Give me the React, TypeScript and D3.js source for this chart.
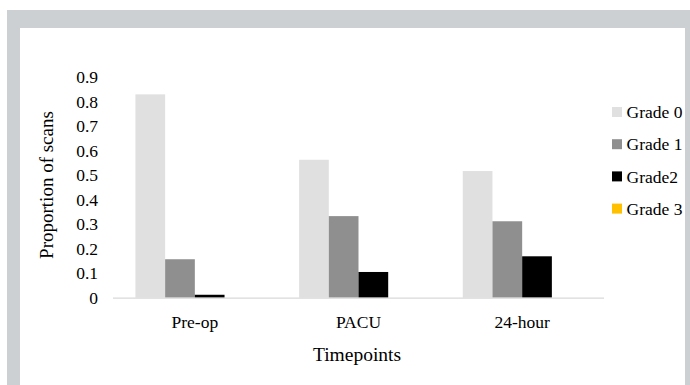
import React from "react";
import * as d3 from "d3";

const categories = ["Pre-op", "PACU", "24-hour"];
const seriesNames = ["Grade 0", "Grade 1", "Grade2", "Grade 3"];
const grade0 = [0.83, 0.563, 0.517];
const grade1 = [0.157, 0.333, 0.312];
const grade2 = [0.012, 0.105, 0.169];
const grade3 = [0, 0, 0];
const seriesColors = ["#e0e0e0", "#8f8f8f", "#000000", "#ffc000"];
const yTicks = [0, 0.1, 0.2, 0.3, 0.4, 0.5, 0.6, 0.7, 0.8, 0.9];

const W = 690;
const H = 385;
const FONT = "'Liberation Serif', 'Times New Roman', serif";

export default function App() {
  const seriesValues = [grade0, grade1, grade2, grade3];
  const x0 = d3.scaleBand<string>().domain(categories).range([113, 604]).paddingInner(0).paddingOuter(0);
  const groupPad = (x0.bandwidth() - 4 * 29.7) / 2;
  const x1 = d3
    .scaleBand<string>()
    .domain(seriesNames)
    .range([groupPad, x0.bandwidth() - groupPad])
    .padding(0);
  const y = d3.scaleLinear().domain([0, 0.9]).range([297.7, 297.7 - 9 * 24.5]);

  return (
    <div style={{ position: "fixed", left: 0, top: 0 }}>
      <svg width={W} height={H} style={{ display: "block" }}>
        <rect x={0} y={0} width={W} height={H} fill="#ffffff" />
        <rect x={7} y={10} width={W - 7} height={H - 10} fill="#cdd0d3" />
        <rect x={20} y={28} width={665} height={H - 28} fill="#ffffff" />

        {/* bars */}
        {categories.map((c, ci) => (
          <g key={c} transform={`translate(${x0(c)},0)`}>
            {seriesNames.map((s, si) => {
              const v = seriesValues[si][ci];
              const yv = y(v);
              return (
                <rect
                  key={s}
                  x={x1(s)}
                  y={yv}
                  width={x1.bandwidth()}
                  height={Math.max(0, y(0) - yv)}
                  fill={seriesColors[si]}
                />
              );
            })}
          </g>
        ))}

        {/* x axis line */}
        <line x1={113} x2={604} y1={y(0) + 0.5} y2={y(0) + 0.5} stroke="#d9d9d9" strokeWidth={1.3} />

        {/* y tick labels */}
        {yTicks.map((t) => (
          <text
            key={t}
            x={98}
            y={y(t)}
            dy="0.35em"
            textAnchor="end"
            fontFamily={FONT}
            fontSize={17.5}
            fill="#000"
          >
            {t === 0 ? "0" : d3.format(".1f")(t)}
          </text>
        ))}

        {/* x tick labels */}
        {categories.map((c) => (
          <text
            key={c}
            x={(x0(c) as number) + x0.bandwidth() / 2}
            y={322}
            dy="0.35em"
            textAnchor="middle"
            fontFamily={FONT}
            fontSize={17.5}
            fill="#000"
          >
            {c}
          </text>
        ))}

        {/* axis titles */}
        <text
          x={357}
          y={354}
          dy="0.35em"
          textAnchor="middle"
          fontFamily={FONT}
          fontSize={19.5}
          fill="#000"
        >
          Timepoints
        </text>
        <text
          transform={`translate(46.5,185) rotate(-90)`}
          dy="0.35em"
          textAnchor="middle"
          fontFamily={FONT}
          fontSize={19}
          fill="#000"
        >
          Proportion of scans
        </text>

        {/* legend */}
        {seriesNames.map((s, i) => {
          const cy = 112 + i * 32.2;
          return (
            <g key={s}>
              <rect x={612} y={cy - 5} width={10} height={10} fill={seriesColors[i]} />
              <text x={626.5} y={cy} dy="0.35em" fontFamily={FONT} fontSize={17.5} fill="#000">
                {s}
              </text>
            </g>
          );
        })}
      </svg>
    </div>
  );
}
